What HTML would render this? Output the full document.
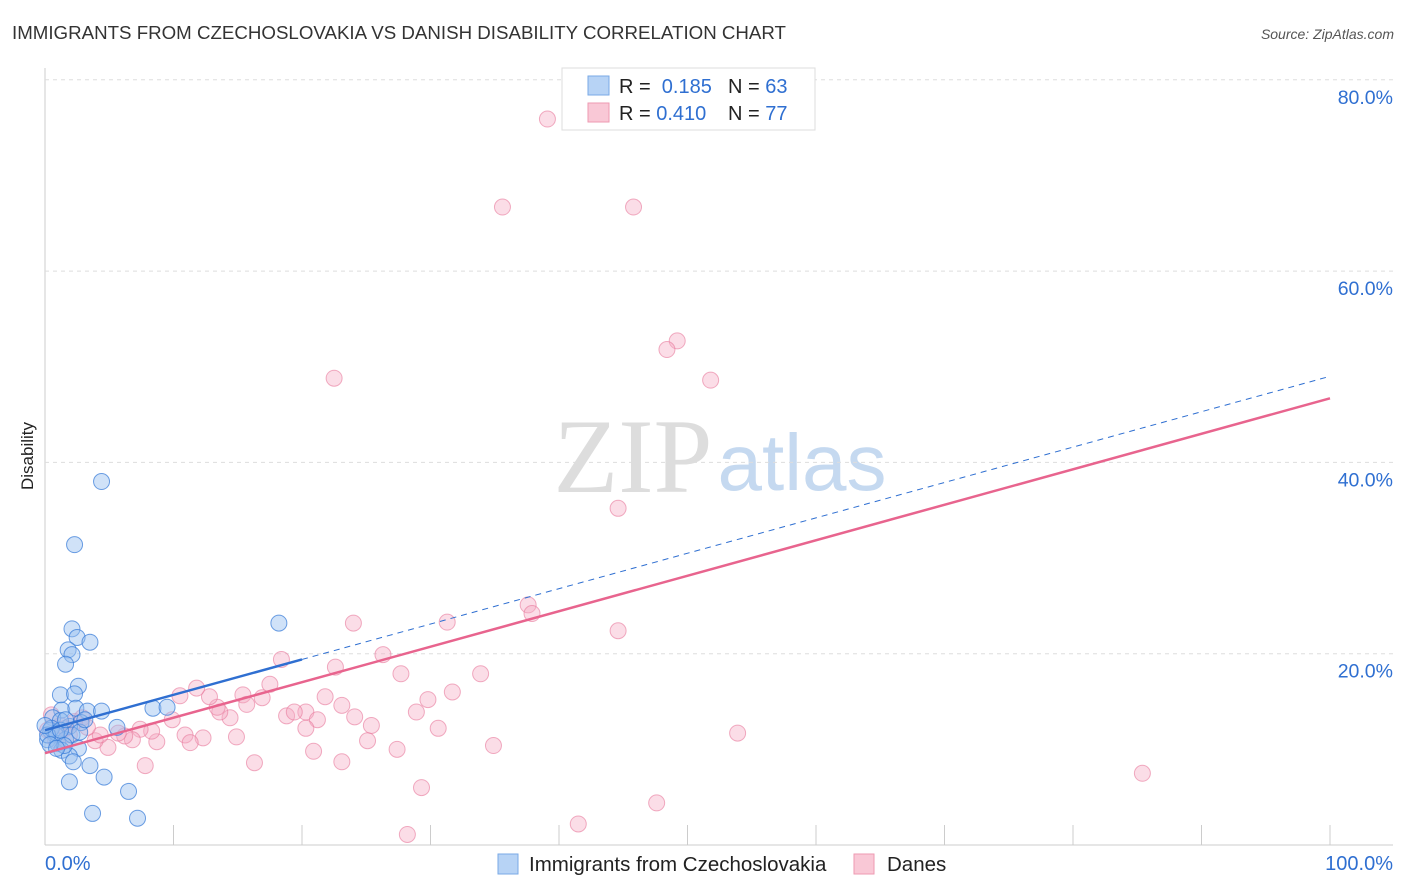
<!DOCTYPE html>
<html><head><meta charset="utf-8"><style>
body{margin:0;background:#fff;font-family:"Liberation Sans",sans-serif;}
svg{display:block}
</style></head><body>
<svg id="c" width="1406" height="892" xmlns="http://www.w3.org/2000/svg">
<text x="12" y="39" font-size="18" fill="#333" textLength="774" lengthAdjust="spacingAndGlyphs">IMMIGRANTS FROM CZECHOSLOVAKIA VS DANISH DISABILITY CORRELATION CHART</text>
<text x="1394" y="39" font-size="14" fill="#555" font-style="italic" text-anchor="end">Source: ZipAtlas.com</text>
<text x="33" y="456" font-size="17" fill="#222" text-anchor="middle" transform="rotate(-90 33 456)">Disability</text>
<g>
<text x="633" y="492" font-size="106" font-family="Liberation Serif,serif" fill="#ddd" text-anchor="middle">ZIP</text>
<text x="802" y="490" font-size="80" fill="#c5d9f0" text-anchor="middle">atlas</text>
</g>
<g id="grid"></g><g id="pts"></g><g id="lines"></g>
<g>
<rect x="562" y="68" width="253" height="62" fill="#fff" stroke="#ddd"/>
<rect x="588" y="76" width="21" height="19" fill="#b7d3f5" stroke="#7aa9e6"/>
<rect x="588" y="103" width="21" height="19" fill="#f9c8d6" stroke="#ee9ab2"/>
<text x="619" y="93" font-size="20" fill="#222">R = <tspan fill="#2f6fd1">&#160;0.185</tspan></text>
<text x="728" y="93" font-size="20" fill="#222">N = <tspan fill="#2f6fd1">63</tspan></text>
<text x="619" y="120" font-size="20" fill="#222">R = <tspan fill="#2f6fd1">0.410</tspan></text>
<text x="728" y="120" font-size="20" fill="#222">N = <tspan fill="#2f6fd1">77</tspan></text>
</g>
<g>
<rect x="498" y="854" width="20" height="20" fill="#b7d3f5" stroke="#7aa9e6"/>
<text x="529" y="871" font-size="20.5" fill="#222">Immigrants from Czechoslovakia</text>
<rect x="854" y="854" width="20" height="20" fill="#f9c8d6" stroke="#ee9ab2"/>
<text x="887" y="871" font-size="20.5" fill="#222">Danes</text>
</g>
</svg>
<script>
const blueX=[4.4,2.3,2.1,2.5,3.5,1.8,2.1,1.6,2.6,1.2,2.3,1.3,2.4,3.3,4.4,8.4,9.5,18.2,5.6,2.8,1.9,0.6,1.2,0.4,0.8,0.2,1.0,1.6,2.1,2.6,1.3,1.9,2.2,3.5,4.6,1.9,6.5,3.7,7.2,0.5,0.9,0.2,1.2,1.5,2.7,3.1,0.4,0.9,0,1.6];
const blueY=[38.0,31.4,22.6,21.7,21.2,20.4,19.9,18.9,16.6,15.7,15.8,14.1,14.3,14.0,14.0,14.3,14.4,23.2,12.3,12.8,12.4,13.3,13.0,12.0,11.5,11.0,10.6,11.0,11.5,10.1,9.9,9.3,8.7,8.3,7.1,6.6,5.6,3.3,2.8,12.2,11.7,11.5,12.0,10.4,11.8,13.1,10.5,10.1,12.5,13.1];
const pinkX=[39.1,35.6,45.8,49.2,48.4,51.8,22.5,44.6,37.6,37.9,44.6,31.3,24.0,18.4,26.3,22.6,27.7,33.9,31.7,29.8,28.9,30.6,34.9,53.9,85.4,47.6,41.5,28.2,29.3,27.4,23.1,24.1,25.4,25.1,23.1,20.9,21.8,20.3,21.2,20.3,18.8,19.4,17.5,16.9,15.4,15.7,14.4,13.6,13.4,12.8,11.8,10.5,9.9,14.9,12.3,10.9,11.3,8.7,8.3,7.4,6.8,6.2,5.7,4.9,3.9,4.3,7.8,16.3,3.3,2.9,1.2,0.5,1.9,0.8,1.6,2.3,0.2];
const pinkY=[75.9,66.7,66.7,52.7,51.8,48.6,48.8,35.2,25.1,24.2,22.4,23.3,23.2,19.4,19.9,18.6,17.9,17.9,16.0,15.2,13.9,12.2,10.4,11.7,7.5,4.4,2.2,1.1,6.0,10.0,14.6,13.4,12.5,10.9,8.7,9.8,15.5,13.9,13.1,12.2,13.5,13.9,16.8,15.4,15.7,14.7,13.3,13.9,14.4,15.5,16.4,15.6,13.1,11.3,11.2,11.5,10.7,10.8,11.9,12.1,11.0,11.4,11.7,10.2,10.9,11.5,8.3,8.6,12.3,13.3,12.5,13.6,11.5,11.0,12.2,12.9,12.0];
const yTicks=[20,40,60,80];
const xTicks=[10,20,30,40,50,60,70,80,90,100];
const blueFit=[12.0,0.37], pinkFit=[9.6,0.371];
const sx=v=>45+v*12.85, sy=v=>845-v*9.565;
const NS="http://www.w3.org/2000/svg";
function mk(t,a,p){const e=document.createElementNS(NS,t);for(const k in a)e.setAttribute(k,a[k]);p.appendChild(e);return e;}
const g=document.getElementById('grid');
let e=mk('line',{x1:45,y1:68,x2:45,y2:845,stroke:'#ccc'},g);


e=mk('line',{x1:45,y1:845,x2:1393,y2:845,stroke:'#ccc'},g);


yTicks.forEach(t=>{
 e=mk('line',{x1:45,y1:sy(t),x2:1393,y2:sy(t),stroke:'#ddd','stroke-dasharray':'4,4'},g);
 
 
 e=mk('text',{x:1393,y:sy(t)+24,'font-size':19.5,fill:'#2f6fd1','text-anchor':'end'},g);e.textContent=t.toFixed(1)+'%';
 
 
});
xTicks.forEach(t=>{
 e=mk('line',{x1:sx(t),y1:825,x2:sx(t),y2:845,stroke:'#ccc'},g);
 
 
});
e=mk('text',{x:45,y:870,'font-size':20,fill:'#2f6fd1'},g);e.textContent='0.0%';


e=mk('text',{x:1393,y:870,'font-size':20,fill:'#2f6fd1','text-anchor':'end'},g);e.textContent='100.0%';


const pg=document.getElementById('pts');
pinkX.forEach((x,i)=>{e=mk('circle',{cx:sx(x),cy:sy(pinkY[i]),r:8,fill:'rgba(246,170,195,0.4)',stroke:'rgba(232,120,155,0.6)'},pg);
 
 });
blueX.forEach((x,i)=>{e=mk('circle',{cx:sx(x),cy:sy(blueY[i]),r:8,fill:'rgba(150,190,240,0.45)',stroke:'rgba(50,120,215,0.7)'},pg);
 
 });
const lg=document.getElementById('lines');
e=mk('line',{x1:sx(20),y1:sy(blueFit[0]+20*blueFit[1]),x2:sx(100),y2:sy(blueFit[0]+100*blueFit[1]),stroke:'#2f6fd1','stroke-width':1,'stroke-dasharray':'6,5'},lg);


e=mk('line',{x1:sx(0),y1:sy(blueFit[0]),x2:sx(20),y2:sy(blueFit[0]+20*blueFit[1]),stroke:'#2f6fd1','stroke-width':2.5},lg);


e=mk('line',{x1:sx(0),y1:sy(pinkFit[0]),x2:sx(100),y2:sy(pinkFit[0]+100*pinkFit[1]),stroke:'#e8648e','stroke-width':2.5},lg);


</script>
</body></html>
